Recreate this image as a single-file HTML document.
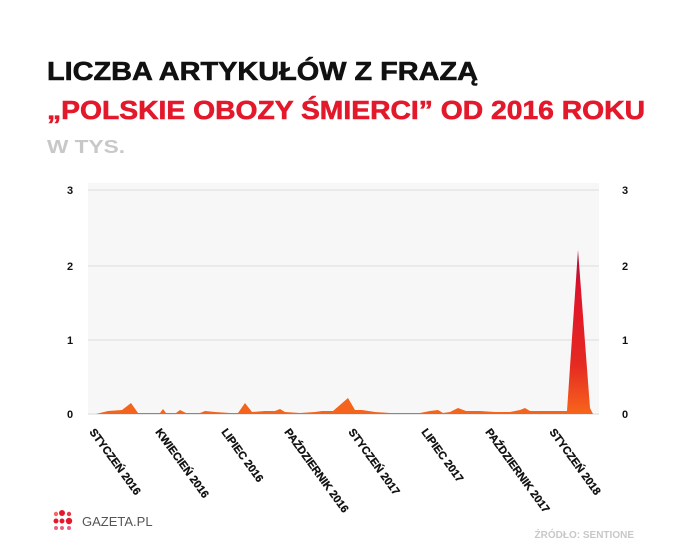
<!DOCTYPE html>
<html><head><meta charset="utf-8"><style>
body{margin:0;background:#fff;width:678px;height:545px;overflow:hidden;font-family:"Liberation Sans",sans-serif}
</style></head><body>
<svg width="678" height="545" xmlns="http://www.w3.org/2000/svg" style="position:absolute;left:0;top:0">
<defs>
<linearGradient id="sp" x1="0" y1="0" x2="0" y2="1">
<stop offset="0" stop-color="#a0103a"/><stop offset="0.25" stop-color="#e0142a"/><stop offset="0.7" stop-color="#e52a22"/><stop offset="1" stop-color="#f7651c"/></linearGradient>
</defs>
<text x="47" y="80" font-size="26" font-weight="bold" fill="#111" stroke="#111" stroke-width="0.6" textLength="431" lengthAdjust="spacingAndGlyphs">LICZBA ARTYKUŁÓW Z FRAZĄ</text>
<text x="47" y="119" font-size="26" font-weight="bold" fill="#e3192b" stroke="#e3192b" stroke-width="0.6" textLength="598" lengthAdjust="spacingAndGlyphs">„POLSKIE OBOZY ŚMIERCI” OD 2016 ROKU</text>
<text x="47" y="153" font-size="18" font-weight="bold" fill="#c8c8c8" textLength="78" lengthAdjust="spacingAndGlyphs">W TYS.</text>
<rect x="88" y="183" width="511" height="232" fill="#f7f7f7"/>
<g stroke="#dcdcdc" stroke-width="1">
<line x1="88" y1="190" x2="599" y2="190"/><line x1="88" y1="266" x2="599" y2="266"/><line x1="88" y1="340" x2="599" y2="340"/><line x1="88" y1="414" x2="599" y2="414"/>
</g>
<g font-size="11" font-weight="bold" fill="#111">
<text x="67" y="194">3</text><text x="67" y="270">2</text><text x="67" y="344">1</text><text x="67" y="418">0</text>
<text x="622" y="194">3</text><text x="622" y="270">2</text><text x="622" y="344">1</text><text x="622" y="418">0</text>
</g>
<path fill="#f4641c" d="M96 414 L100 413 L108 411 L122 410 L131 403 L138 413 L150 413 L160 413 L163 409 L166 413 L176 413 L180 410 L186 413 L200 413 L205 411 L215 412 L230 413 L238 413 L245 403 L252 412 L265 411 L275 411 L280 409 L285 412 L300 413 L315 412 L322 411 L333 411 L348 398 L355 410 L362 410 L375 412 L390 413 L405 413 L420 413 L430 411 L438 410 L443 413 L450 412 L458 408 L466 411 L480 411 L495 412 L510 412 L520 410 L525 408 L530 411 L545 411 L567 411 L570 414 Z"/>
<path fill="url(#sp)" d="M566 414 L567 411 L578 250 L590 408 L593 414 Z"/>
<g font-size="11" font-weight="bold" fill="#111" stroke="#111" stroke-width="0.3">
<text transform="translate(89,432) rotate(54)">STYCZEŃ 2016</text>
<text transform="translate(155,432) rotate(54)">KWIECIEŃ 2016</text>
<text transform="translate(221,432) rotate(54)">LIPIEC 2016</text>
<text transform="translate(284,432) rotate(54)">PAŹDZIERNIK 2016</text>
<text transform="translate(348,432) rotate(54)">STYCZEŃ 2017</text>
<text transform="translate(421,432) rotate(54)">LIPIEC 2017</text>
<text transform="translate(485,432) rotate(54)">PAŹDZIERNIK 2017</text>
<text transform="translate(549,432) rotate(54)">STYCZEŃ 2018</text>
</g>
<g fill="#e3192b">
<circle cx="56" cy="514" r="2.2" fill="#f06a6a"/><circle cx="62" cy="513" r="3" /><circle cx="69" cy="514" r="2.2" fill="#e8384a"/>
<circle cx="56" cy="521" r="2.5"/><circle cx="62" cy="521" r="2.5"/><circle cx="69" cy="521" r="3.2"/>
<circle cx="56" cy="528" r="2" fill="#e86080"/><circle cx="62" cy="528" r="2" fill="#e86080"/><circle cx="69" cy="528" r="2" fill="#e86080"/>
</g>
<text x="82" y="526" font-size="13" fill="#555">GAZETA.PL</text>
<text x="634" y="538" font-size="10" font-weight="bold" fill="#c8c8c8" text-anchor="end">ŹRÓDŁO: SENTIONE</text>
</svg>
</body></html>
